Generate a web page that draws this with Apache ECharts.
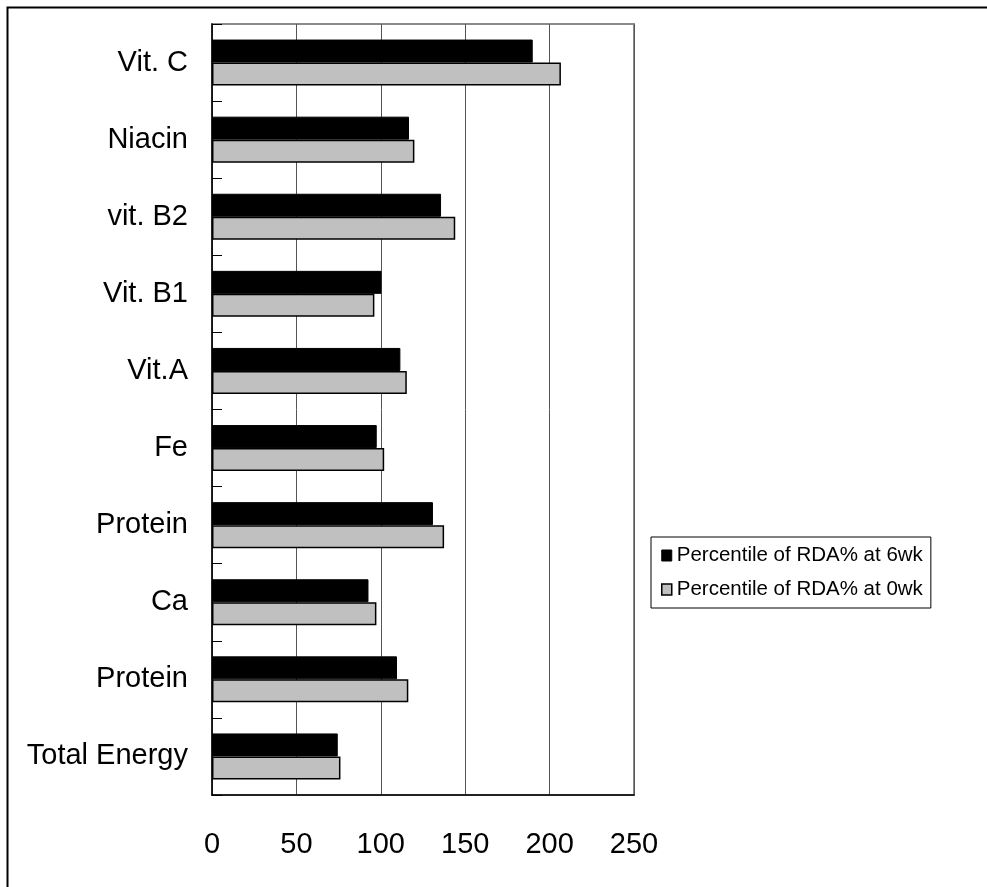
<!DOCTYPE html>
<html>
<head>
<meta charset="utf-8">
<script src="https://cdn.jsdelivr.net/npm/echarts@6/dist/echarts.min.js"></script>
<style>
html,body{margin:0;padding:0;background:#fff;}
#chart{width:987px;height:887px;}
</style>
</head>
<body>
<div id="chart"></div>
<script>
// Categories listed bottom-to-top (ECharts category y axis starts at bottom)
const categories = ['Total Energy', 'Protein', 'Ca', 'Protein', 'Fe', 'Vit.A', 'Vit. B1', 'vit. B2', 'Niacin', 'Vit. C'];
const seriesNames = ['Percentile of RDA% at 6wk', 'Percentile of RDA% at 0wk'];
const values6wk = [74.5, 109.6, 92.7, 130.9, 97.6, 111.6, 100.4, 135.7, 116.7, 190];
const values0wk = [76.1, 116.3, 97.4, 137.5, 102, 115.4, 96.2, 144.1, 119.9, 206.7];
const xTicks = [0, 50, 100, 150, 200, 250];

const FONT = 'Liberation Sans';
const chart = echarts.init(document.getElementById('chart'), null, {renderer: 'canvas'});
chart.setOption({
  backgroundColor: '#fff',
  animation: false,
  graphic: [{
    type: 'rect',
    left: 5, top: 5,
    shape: {x: 0, y: 0, width: 1000, height: 1000},
    style: {fill: 'none', stroke: '#000', lineWidth: 2},
    z: 100
  }],
  grid: {
    left: 212, right: 353, top: 24, bottom: 92,
    show: true, borderColor: '#8a8a8a', borderWidth: 2, backgroundColor: '#fff'
  },
  legend: {
    orient: 'vertical',
    left: 651, top: 537,
    padding: [8, 8, 8, 10],
    itemWidth: 10, itemHeight: 11,
    itemGap: 13,
    borderColor: '#000', borderWidth: 1,
    textStyle: {fontFamily: FONT, fontSize: 20.5, color: '#000'},
    data: [
      {name: seriesNames[0], icon: 'rect', itemStyle: {color: '#000', borderColor: '#000', borderWidth: 1}},
      {name: seriesNames[1], icon: 'rect', itemStyle: {color: '#c0c0c0', borderColor: '#000', borderWidth: 1.5}}
    ]
  },
  xAxis: {
    type: 'value',
    min: 0, max: 250, interval: 50,
    axisLine: {show: true, lineStyle: {color: '#000', width: 1.5}},
    axisTick: {show: false},
    axisLabel: {
      fontFamily: FONT, fontSize: 29, color: '#000', margin: 35,
      formatter: function (v) { return xTicks.indexOf(v) >= 0 ? String(v) : ''; }
    },
    splitLine: {show: true, lineStyle: {color: '#555', width: 1}}
  },
  yAxis: {
    type: 'category',
    data: categories,
    axisLine: {show: true, lineStyle: {color: '#000', width: 1.5}},
    axisTick: {show: true, inside: true, length: 10, lineStyle: {color: '#000', width: 1}},
    axisLabel: {fontFamily: FONT, fontSize: 29, color: '#000', margin: 24},
    splitLine: {show: false}
  },
  series: [
    {
      name: seriesNames[0], type: 'bar', data: values6wk,
      barWidth: 23, barGap: '0%',
      itemStyle: {color: '#000', borderColor: '#000', borderWidth: 1}
    },
    {
      name: seriesNames[1], type: 'bar', data: values0wk,
      barWidth: 23, barGap: '0%',
      itemStyle: {color: '#c0c0c0', borderColor: '#000', borderWidth: 1.5}
    }
  ]
});
</script>
</body>
</html>
